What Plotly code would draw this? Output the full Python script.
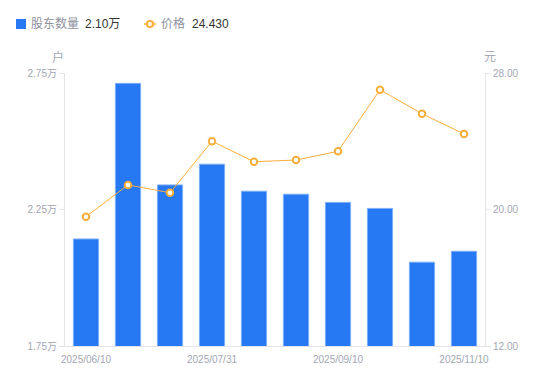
import plotly.graph_objects as go

dates = ["2025/06/10", "2025/06/20", "2025/06/30", "2025/07/31", "2025/08/10",
         "2025/08/20", "2025/09/10", "2025/09/30", "2025/10/20", "2025/11/10"]
holders_wan = [2.142, 2.712, 2.340, 2.416, 2.317, 2.306, 2.276, 2.254, 2.057, 2.097]
price = [19.58, 21.44, 20.98, 24.00, 22.80, 22.90, 23.41, 27.02, 25.61, 24.43]
tick_dates = ["2025/06/10", "2025/07/31", "2025/09/10", "2025/11/10"]
left_ticks = [1.75, 2.25, 2.75]
left_ticktext = ["1.75万", "2.25万", "2.75万"]
right_ticks = [12, 20, 28]
right_ticktext = ["12.00", "20.00", "28.00"]

BLUE = "#2779F3"
ORANGE = "#F9AE3A"
GREY = "#A3A6B4"
AXIS = "#E3E4E8"
FONT = "Liberation Sans, Noto Sans CJK SC, sans-serif"

fig = go.Figure()
fig.add_trace(go.Bar(
    x=dates, y=holders_wan, yaxis="y",
    marker=dict(color=BLUE, line=dict(color="#7EAEF7", width=1)),
    showlegend=False,
))
fig.add_trace(go.Scatter(
    x=dates, y=price, yaxis="y2", mode="lines+markers",
    line=dict(color=ORANGE, width=1),
    marker=dict(symbol="circle", size=6.5, color="white", line=dict(color=ORANGE, width=2)),
    showlegend=False,
))

# body has 8px margin in the page, so compensate
fig.update_layout(
    width=542, height=373,
    margin=dict(l=57, r=65, t=65, b=35),
    paper_bgcolor="white", plot_bgcolor="white",
    font=dict(family=FONT, size=10, color=GREY),
    bargap=0.4,
    xaxis=dict(
        type="category", tickmode="array", tickvals=tick_dates, ticktext=tick_dates,
        range=[-0.5, len(dates) - 0.5],
        showgrid=False, showline=True, linecolor=AXIS, linewidth=1,
        ticks="outside", ticklen=4, tickcolor="rgba(0,0,0,0)",
        tickfont=dict(size=10, color=GREY), zeroline=False,
    ),
    yaxis=dict(
        range=[1.75, 2.75], tickmode="array", tickvals=left_ticks, ticktext=left_ticktext,
        showgrid=False, showline=True, linecolor=AXIS, linewidth=1,
        ticks="outside", ticklen=5, tickcolor=AXIS, zeroline=False,
        tickfont=dict(size=10, color=GREY),
    ),
    yaxis2=dict(
        range=[12, 28], tickmode="array", tickvals=right_ticks, ticktext=right_ticktext,
        overlaying="y", side="right",
        showgrid=False, showline=True, linecolor=AXIS, linewidth=1,
        ticks="outside", ticklen=5, tickcolor=AXIS, zeroline=False,
        tickfont=dict(size=10, color=GREY),
    ),
)

pw, ph = 420, 273
def px(x):
    return (x - 65) / pw
def py(y):
    return (346 - y) / ph

layout_anns = [
    dict(text="户", x=px(58), y=py(57), xref="paper", yref="paper", showarrow=False,
         font=dict(size=12, color=GREY), xanchor="center", yanchor="middle"),
    dict(text="元", x=px(490), y=py(57), xref="paper", yref="paper", showarrow=False,
         font=dict(size=12, color=GREY), xanchor="center", yanchor="middle"),
    dict(text="股东数量", x=px(29), y=py(24), xref="paper", yref="paper", showarrow=False,
         font=dict(size=12, color="#8E919E"), xanchor="left", yanchor="middle"),
    dict(text=f"{holders_wan[-1]:.2f}万", x=px(83), y=py(24), xref="paper", yref="paper",
         showarrow=False, font=dict(size=12, color="#333333"), xanchor="left", yanchor="middle"),
    dict(text="价格", x=px(159), y=py(24), xref="paper", yref="paper", showarrow=False,
         font=dict(size=12, color="#8E919E"), xanchor="left", yanchor="middle"),
    dict(text=f"{price[-1]:.3f}", x=px(190), y=py(24), xref="paper", yref="paper",
         showarrow=False, font=dict(size=12, color="#333333"), xanchor="left", yanchor="middle"),
]
fig.update_layout(annotations=layout_anns)

fig.add_shape(type="rect", xref="paper", yref="paper",
              x0=px(16), x1=px(26), y0=py(29), y1=py(19),
              fillcolor=BLUE, line=dict(width=0))
fig.add_shape(type="line", xref="paper", yref="paper",
              x0=px(144), x1=px(156), y0=py(24), y1=py(24),
              line=dict(color=ORANGE, width=1.5))
fig.add_shape(type="circle", xref="paper", yref="paper",
              x0=px(147), x1=px(153), y0=py(27), y1=py(21),
              fillcolor="white", line=dict(color=ORANGE, width=2))

fig.write_html("out.html")
